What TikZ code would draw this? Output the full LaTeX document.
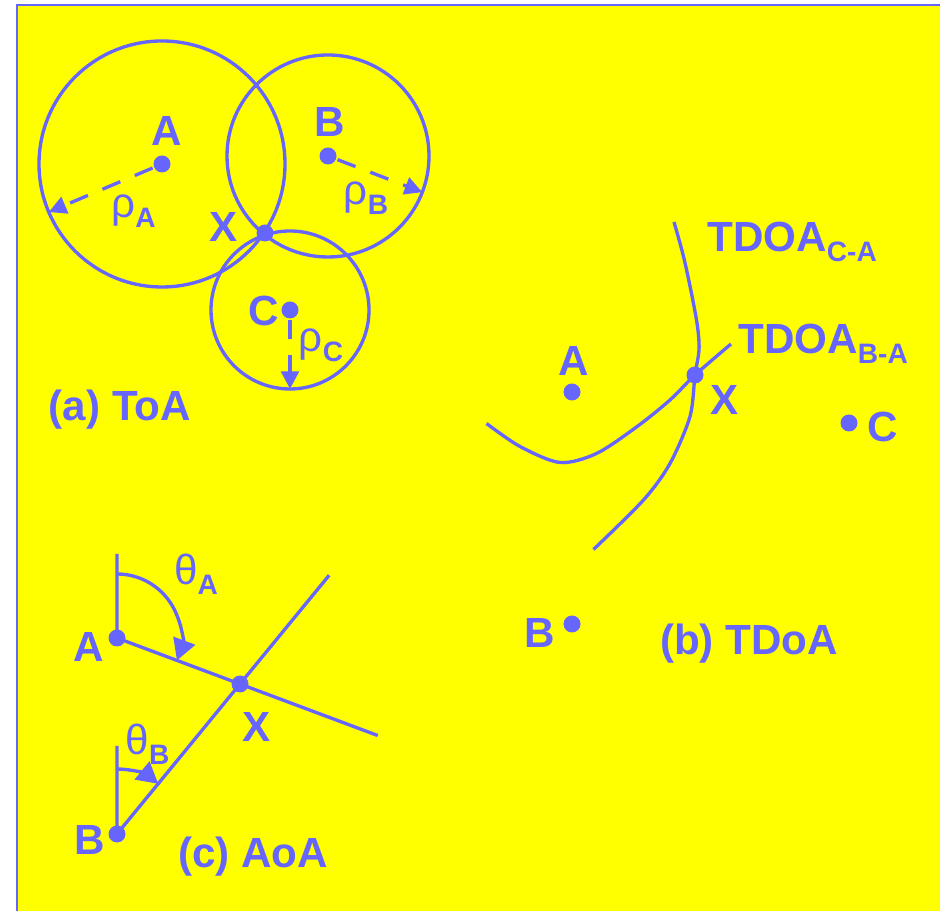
\documentclass[tikz,border=0pt]{standalone}
\usepackage{fontspec}
\setmainfont{Liberation Sans}
\usetikzlibrary{arrows.meta,calc}

\definecolor{locblue}{RGB}{102,102,255}
\definecolor{locyellow}{RGB}{255,255,0}
\newcommand{\lsub}[1]{\raisebox{-5.5pt}{\fontsize{16}{16}\selectfont\bfseries #1}}

\begin{document}
\begin{tikzpicture}[
    lbl/.style={text=locblue, inner sep=0pt, font=\fontsize{24}{28}\selectfont\bfseries},
    grk/.style={text=locblue, inner sep=0pt, font=\fontsize{24}{28}\selectfont},
    dot/.style={circle, fill=locblue, inner sep=0pt, minimum size=0.34cm},
    rng/.style={dash pattern=on 11pt off 9pt, -{Triangle[length=10pt,width=10pt]}},
    ang/.style={-{Triangle[length=12pt,width=13pt]}}
]
        \useasboundingbox (0,0) rectangle (18.8,18.22);
        \fill[locyellow] (0.34,0) rectangle (18.8,18.12);
        \draw[locblue, line width=1.1pt] (0.34,0) -- (0.34,18.12) -- (18.8,18.12);
        
        \begin{scope}[locblue, line width=1.9pt]
        % (a) ToA
        \node[dot] (ta) at (3.24,14.94) {};
        \node[dot] (tb) at (6.56,15.10) {};
        \node[dot] (tc) at (5.80,12.02) {};
        \node[dot] (tx) at (5.30,13.56) {};
        \draw (ta.center) circle (2.46);
        \draw (tb.center) circle (2.02);
        \draw (tc.center) circle (1.58);
        \coordinate (tra) at ($(ta)+(203:2.46)$);
        \coordinate (trb) at ($(tb)+(-21:2.02)$);
        \coordinate (trc) at ($(tc)+(-90:1.58)$);
        \draw[rng] (ta) -- (tra);
        \draw[rng] (tb) -- (trb);
        \draw[rng] (tc) -- (trc);
        
        % (b) TDoA
        \node[dot] (da) at (11.44,10.38) {};
        \node[dot] (db) at (11.44,5.74) {};
        \node[dot] (dc) at (16.98,9.76) {};
        \node[dot] (dx) at (13.90,10.72) {};
        \draw plot[smooth] coordinates {(13.48,13.78) (13.67,13.09) (13.83,12.35) (13.95,11.69) (13.98,11.22) (13.90,10.72) (13.80,9.89) (13.40,8.95) (12.87,8.22) (11.87,7.23)};
        \draw plot[smooth] coordinates {(9.73,9.75) (10.40,9.29) (11.20,8.97) (11.93,9.15) (12.73,9.68) (13.40,10.22) (13.90,10.72) (14.62,11.34)};
        
        % (c) AoA
        \node[dot] (aa) at (2.34,5.46) {};
        \node[dot] (ab) at (2.34,1.54) {};
        \node[dot] (ax) at (4.80,4.54) {};
        \coordinate (aau) at (2.34,7.14);
        \coordinate (abu) at (2.34,3.30);
        \coordinate (aae) at ($(aa)!2.12!(ax)$);
        \coordinate (abe) at ($(ab)!1.725!(ax)$);
        \draw (aau) -- (aa.center) -- (aae);
        \draw (abu) -- (ab.center) -- (abe);
        \draw[ang] ($(aa)+(0,1.28)$) arc[start angle=90, end angle=-20.5, radius=1.28];
        \draw[ang] ($(ab)+(0,1.3)$) arc[start angle=90, end angle=50.6, radius=1.3];
        \end{scope}
        
        % labels
        \node[lbl] (tla) at (3.34,15.60) {A};
        \node[lbl] (tlb) at (6.60,15.77) {B};
        \node[lbl] (tlc) at (5.28,12.00) {C};
        \node[lbl] (tlx) at (4.48,13.68) {X};
        \node[grk] (tra-l) at (2.67,14.00) {ρ\lsub{A}};
        \node[grk] (trb-l) at (7.32,14.26) {ρ\lsub{B}};
        \node[grk] (trc-l) at (6.42,11.32) {ρ\lsub{C}};
        \node[lbl] (tcap) at (2.40,10.02) {(a) ToA};
        
        \node[lbl] (dla) at (11.48,11.00) {A};
        \node[lbl] (dlb) at (10.80,5.57) {B};
        \node[lbl] (dlc) at (17.66,9.68) {C};
        \node[lbl] (dlx) at (14.50,10.22) {X};
        \node[lbl, anchor=base west] (dca) at (14.14,13.18) {TDOA\lsub{C-A}};
        \node[lbl, anchor=base west] (dba) at (14.76,11.14) {TDOA\lsub{B-A}};
        \node[lbl] (dcap) at (14.98,5.34) {(b) TDoA};
        
        \node[lbl] (ala) at (1.78,5.28) {A};
        \node[lbl] (alb) at (1.80,1.42) {B};
        \node[lbl] (alx) at (5.14,3.68) {X};
        \node[grk] (ata) at (3.92,6.74) {θ\lsub{A}};
        \node[grk] (atb) at (2.95,3.34) {θ\lsub{B}};
        \node[lbl] (acap) at (5.06,1.08) {(c) AoA};
        
\end{tikzpicture}
\end{document}
